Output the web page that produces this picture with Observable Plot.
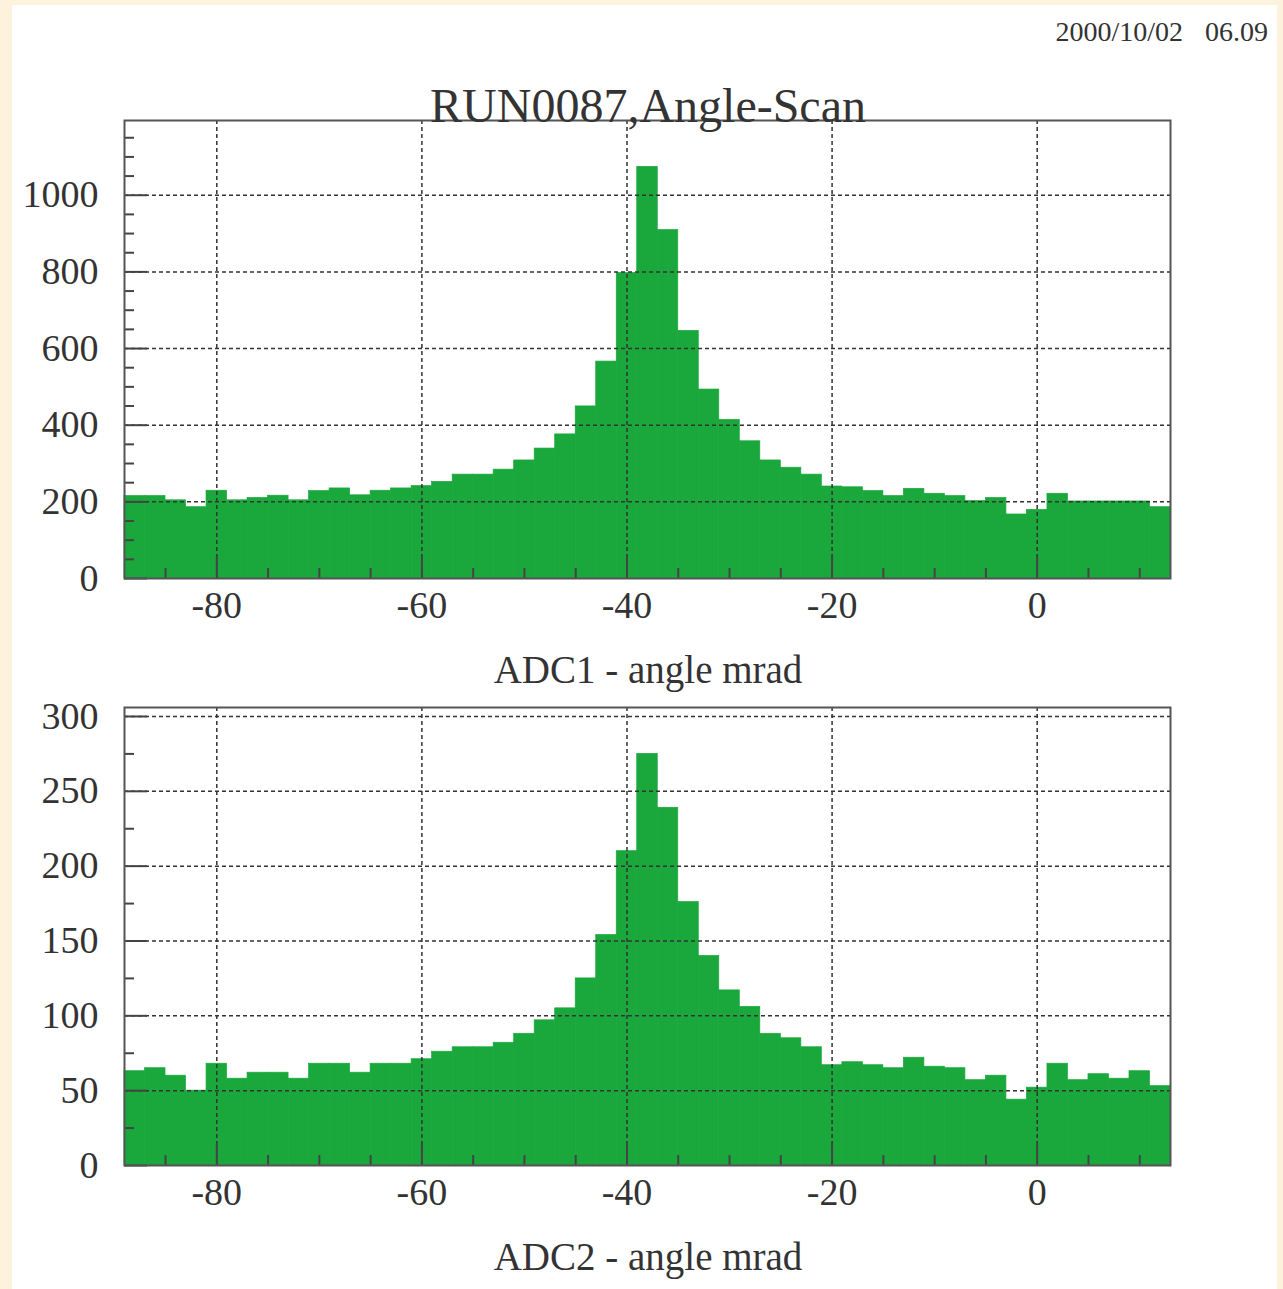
<!DOCTYPE html>
<html>
<head>
<meta charset="utf-8">
<script src="https://cdn.jsdelivr.net/npm/d3@7"></script>
<script src="https://cdn.jsdelivr.net/npm/@observablehq/plot@0.6"></script>
<style>
  html, body { margin: 0; padding: 0; overflow: hidden; background: #fdf3dd; }
  #page { position: relative; width: 1283px; height: 1289px; background: #fdf3dd; overflow: hidden; }
  #sheet { position: absolute; left: 12px; top: 5px; width: 1265px; height: 1284px; background: #ffffff; }
  .txt { position: absolute; font-family: "Liberation Serif", "Times New Roman", serif; color: #333; line-height: 1; white-space: pre; }
  .panel { position: absolute; left: 0; }
</style>
</head>
<body>
<div id="page">
  <div id="sheet"></div>
  <div class="panel" id="p1" style="top:0px"></div>
  <div class="panel" id="p2" style="top:587px"></div>
  <div class="txt" id="date" style="font-size:28px; top:18px; right:15px; word-spacing:4px;">2000/10/02  06.09</div>
  <div class="txt" id="title" style="font-size:48px; top:82px; left:648px; transform:translateX(-50%);">RUN0087,Angle-Scan</div>
  <div class="txt" id="xl1" style="font-size:39px; top:650px; left:648px; transform:translateX(-50%);">ADC1 - angle mrad</div>
  <div class="txt" id="xl2" style="font-size:39px; top:1237px; left:648px; transform:translateX(-50%);">ADC2 - angle mrad</div>
</div>
<script>
// ---- data ----
const binEdges = [-89,-87,-85,-83,-81,-79,-77,-75,-73,-71,-69,-67,-65,-63,-61,-59,-57,-55,-53,-51,-49,-47,-45,-43,-41,-39,-37,-35,-33,-31,-29,-27,-25,-23,-21,-19,-17,-15,-13,-11,-9,-7,-5,-3,-1,1,3,5,7,9,11,13];

const adc1Counts = [215,215,204,186,229,204,210,216,204,228,235,217,229,235,241,252,271,271,284,308,339,376,449,566,797,1074,909,646,493,414,358,308,289,271,240,238,228,215,234,221,215,202,210,167,179,221,201,201,201,201,186];

const adc2Counts = [63,65,60,50,68,58,62,62,58,68,68,62,68,68,71,76,79,79,82,88,97,105,125,154,210,275,239,176,140,117,106,88,85,79,67,69,67,65,72,66,65,57,60,44,52,68,57,61,58,63,53];

const xDomain = [-89, 13];
const xMajorTicks = [-80,-60,-40,-20,0];
const xMinorTicks = [-85,-75,-70,-65,-55,-50,-45,-35,-30,-25,-15,-10,-5,5,10];

const y1Domain = [0, 1195];
const y1MajorTicks = [0,200,400,600,800,1000];
const y1MinorTicks = [50,100,150,250,300,350,450,500,550,650,700,750,850,900,950,1050,1100,1150];

const y2Domain = [0, 306];
const y2MajorTicks = [0,50,100,150,200,250,300];
const y2MinorTicks = [25,75,125,175,225,275];

// ---- styling ----
const GREEN = "#1aa83d";
const INK = "#333333";
const W = 1283, H = 700, ML = 124, MR = 113, MT = 120, MB = 122;
const PW = W - ML - MR, PH = H - MT - MB;
const FONT = "'Liberation Serif', 'Times New Roman', serif";

function panel(counts, yDomain, yMajor, yMinor) {
  const bins = counts.map((v, i) => ({x1: binEdges[i], x2: binEdges[i + 1], y: v}));
  return Plot.plot({
    width: W, height: H,
    marginLeft: ML, marginRight: MR, marginTop: MT, marginBottom: MB,
    x: {domain: xDomain},
    y: {domain: yDomain},
    style: {background: "transparent", fontFamily: FONT, fontSize: "38px", color: "#333", overflow: "visible"},
    marks: [
      Plot.rectY(bins, {x1: "x1", x2: "x2", y: "y", fill: GREEN, stroke: GREEN, strokeWidth: 0.7, inset: 0}),
      Plot.gridX({ticks: xMajorTicks, stroke: INK, strokeOpacity: 1, strokeWidth: 1.5, strokeDasharray: "4,3"}),
      Plot.gridY({ticks: yMajor.filter(v => v > 0), stroke: INK, strokeOpacity: 1, strokeWidth: 1.5, strokeDasharray: "4,3"}),
      Plot.tickX(xMinorTicks, {x: d => d, insetTop: PH - 10, stroke: "#444", strokeWidth: 2}),
      Plot.tickX(xMajorTicks, {x: d => d, insetTop: PH - 22, stroke: "#444", strokeWidth: 2}),
      Plot.tickY(yMinor, {y: d => d, insetRight: PW - 10, stroke: "#444", strokeWidth: 2}),
      Plot.tickY(yMajor, {y: d => d, insetRight: PW - 23, stroke: "#444", strokeWidth: 2}),
      Plot.axisX({ticks: xMajorTicks, tickSize: 0, tickPadding: 13, tickFormat: d => String(d), label: null, fontSize: 38, fill: "#333"}),
      Plot.axisY({ticks: yMajor, tickSize: 0, tickPadding: 26, tickFormat: d => String(d), label: null, fontSize: 38, fill: "#333"}),
      Plot.frame({stroke: "#555", strokeWidth: 2})
    ]
  });
}

document.getElementById("p1").appendChild(panel(adc1Counts, y1Domain, y1MajorTicks, y1MinorTicks));
document.getElementById("p2").appendChild(panel(adc2Counts, y2Domain, y2MajorTicks, y2MinorTicks));
</script>
</body>
</html>
